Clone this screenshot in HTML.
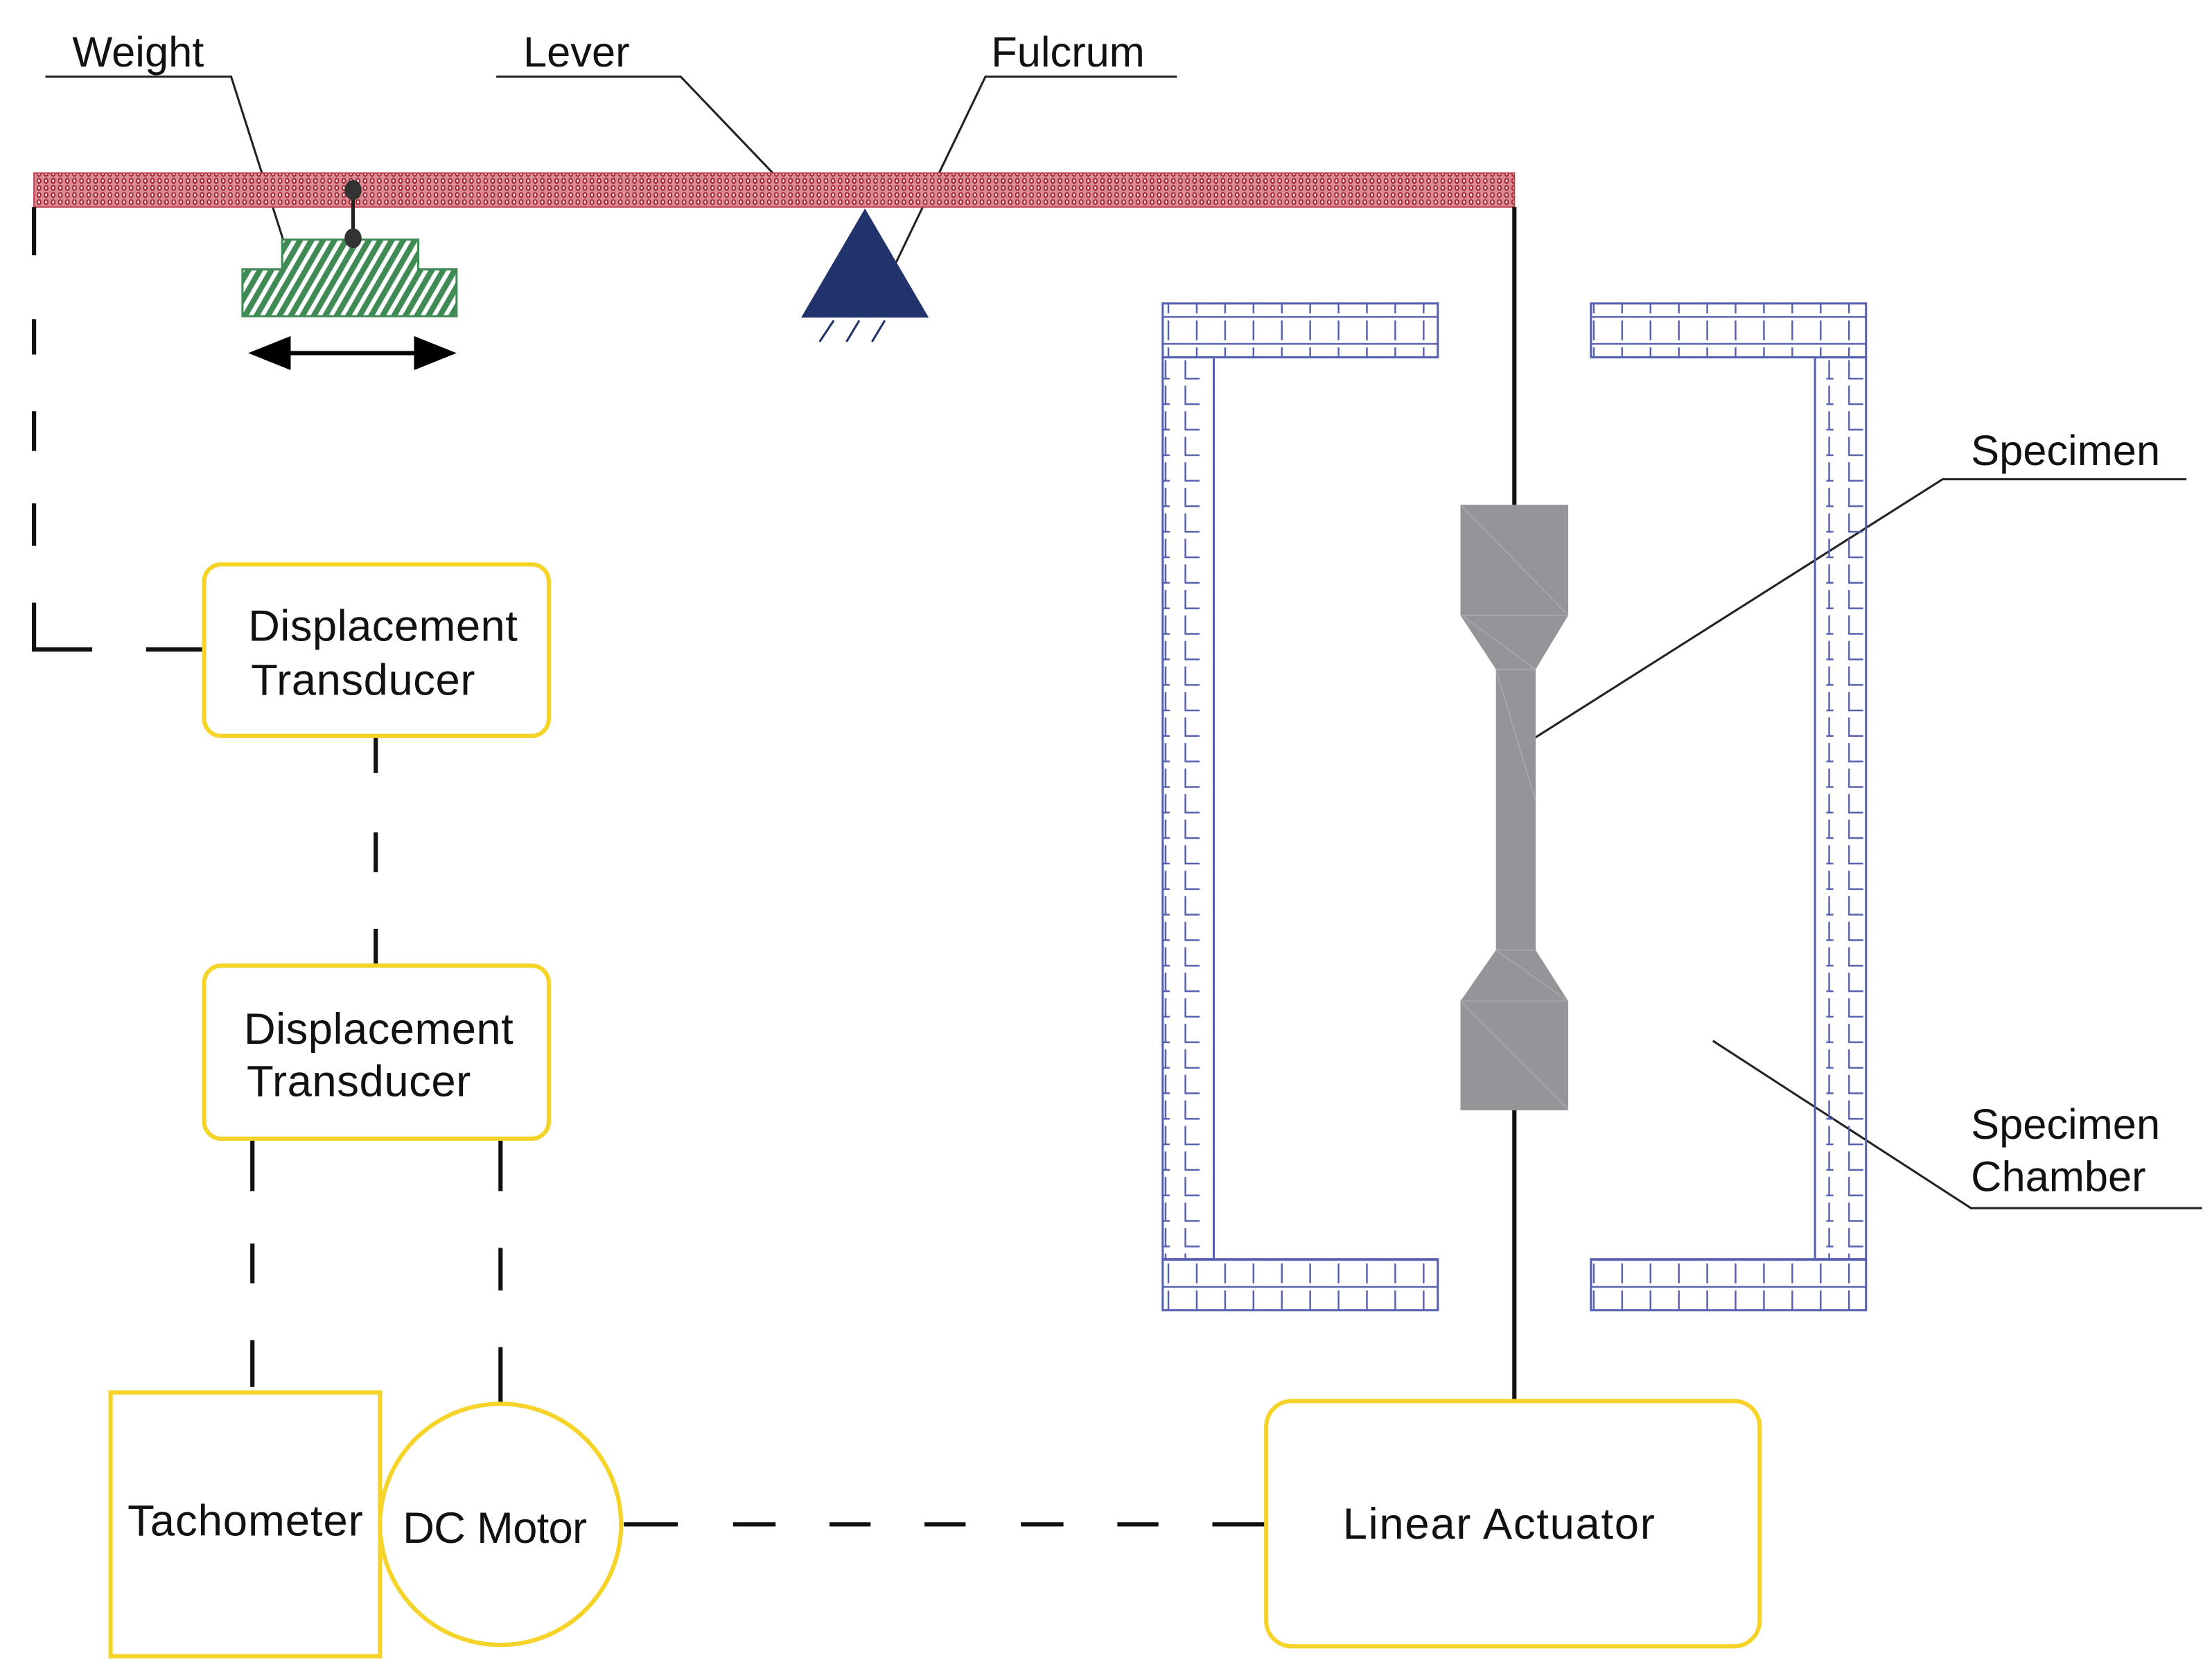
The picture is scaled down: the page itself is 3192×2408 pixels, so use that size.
<!DOCTYPE html>
<html><head><meta charset="utf-8"><style>
html,body{margin:0;padding:0;background:#fff;}
svg{display:block;}
text{font-family:"Liberation Sans",sans-serif;fill:#111;}
</style></head><body>
<svg width="3192" height="2408" viewBox="0 0 1560 1177" preserveAspectRatio="none" xmlns="http://www.w3.org/2000/svg">
<defs>
<pattern id="lev" width="5" height="5" patternUnits="userSpaceOnUse">
<rect width="5" height="5" fill="#d98a92"/>
<ellipse cx="2.5" cy="2.5" rx="1.2" ry="1.6" fill="#f6e4e6" stroke="#a01c28" stroke-width="0.9"/>
</pattern>
<pattern id="hat" width="7" height="7" patternUnits="userSpaceOnUse" patternTransform="rotate(30)">
<rect width="7" height="7" fill="#fff"/>
<rect width="4" height="7" fill="#3f8a55"/>
</pattern>
<pattern id="brickH" x="820" y="214" width="20" height="19" patternUnits="userSpaceOnUse">
<path d="M4 0V7 M4 12V19 M0 9.5H20 M4 9.5H14" stroke="#5560b0" stroke-width="1.2" fill="none"/>
</pattern>
<pattern id="brickV" x="820" y="252" width="36" height="18" patternUnits="userSpaceOnUse">
<path d="M16 2V15 H26 M0 15H5 M2 2V15" stroke="#5560b0" stroke-width="1.2" fill="none"/>
</pattern>
</defs>

<g font-size="30">
<text x="51" y="47">Weight</text>
<text x="369" y="47">Lever</text>
<text x="699" y="47">Fulcrum</text>
<text x="1390" y="328">Specimen</text>
<text x="1390" y="803">Specimen</text>
<text x="1390" y="840">Chamber</text>
</g>
<g stroke="#222" stroke-width="1.5" fill="none">
<path d="M32 54H163L200 170"/>
<path d="M350 54H480L545 122"/>
<path d="M830 54H695L632 185"/>
<path d="M1542 338H1370L1083 520"/>
<path d="M1553 852H1390L1208 734"/>
</g>

<rect x="24" y="122" width="1044" height="24" fill="url(#lev)" stroke="#c04050" stroke-width="1"/>

<path d="M199 169H295V190H322V223H171V190H199Z" fill="url(#hat)" stroke="#3f8a55" stroke-width="1.5"/>
<line x1="249" y1="134" x2="249" y2="168" stroke="#222" stroke-width="2.5"/>
<ellipse cx="249" cy="134" rx="6" ry="7" fill="#333"/>
<ellipse cx="249" cy="168" rx="6" ry="7" fill="#333"/>
<line x1="195" y1="249" x2="302" y2="249" stroke="#000" stroke-width="3"/>
<path d="M175 249L205 237V261Z M322 249L292 237V261Z" fill="#000"/>

<path d="M610 147L655 224H565Z" fill="#22336b"/>
<g stroke="#22336b" stroke-width="1.5"><line x1="588" y1="226" x2="578" y2="241"/><line x1="606" y1="226" x2="597" y2="241"/><line x1="624" y1="226" x2="615" y2="241"/></g>

<g stroke="#111" stroke-width="3" fill="none">
<path d="M24 146V180 M24 225V250 M24 290V318 M24 355V385 M24 425V458H65 M103 458H143"/>
<path d="M265 519V545 M265 587V615 M265 655V680"/>
<path d="M178 803V840 M178 877V905 M178 945V978"/>
<path d="M353 803V840 M353 880V910 M353 950V990"/>
<path d="M440 1075H478 M517 1075H547 M585 1075H614 M652 1075H681 M720 1075H750 M788 1075H817 M855 1075H893"/>
<path d="M1068 146V356 M1068 783V988"/>
</g>

<g fill="#fff" stroke="#f5d328" stroke-width="3">
<rect x="144" y="398" width="243" height="121" rx="12"/>
<rect x="144" y="681" width="243" height="122" rx="12"/>
<rect x="78" y="982" width="190" height="186"/>
<circle cx="353" cy="1075" r="85"/>
<rect x="893" y="988" width="348" height="173" rx="18"/>
</g>
<g font-size="31">
<text x="175" y="452" textLength="190">Displacement</text>
<text x="177" y="490" textLength="158">Transducer</text>
<text x="172" y="736" textLength="190">Displacement</text>
<text x="174" y="773" textLength="158">Transducer</text>
<text x="90" y="1083" textLength="166">Tachometer</text>
<text x="284" y="1088" textLength="130">DC Motor</text>
<text x="947" y="1085" textLength="220">Linear Actuator</text>
</g>

<path d="M1030 356H1106V434L1083 472V670L1106 706V783H1030V706L1055 670V472L1030 434Z" fill="#939598"/>
<g stroke="#a8a9ac" stroke-width="0.8" fill="none"><path d="M1030 434H1106 M1030 706H1106 M1055 472H1083 M1055 670H1083 M1031 357L1106 434 M1031 434L1083 472 M1055 670L1106 706 M1031 707L1106 782 M1055 472L1083 565"/></g>

<g stroke="#5560b0" stroke-width="1.5">
<rect x="820" y="214" width="194" height="38" fill="url(#brickH)"/>
<rect x="820" y="252" width="36" height="636" fill="url(#brickV)"/>
<rect x="820" y="888" width="194" height="36" fill="url(#brickH)"/>
<rect x="1122" y="214" width="194" height="38" fill="url(#brickH)"/>
<rect x="1280" y="252" width="36" height="636" fill="url(#brickV)"/>
<rect x="1122" y="888" width="194" height="36" fill="url(#brickH)"/>
</g>
</svg>
</body></html>
